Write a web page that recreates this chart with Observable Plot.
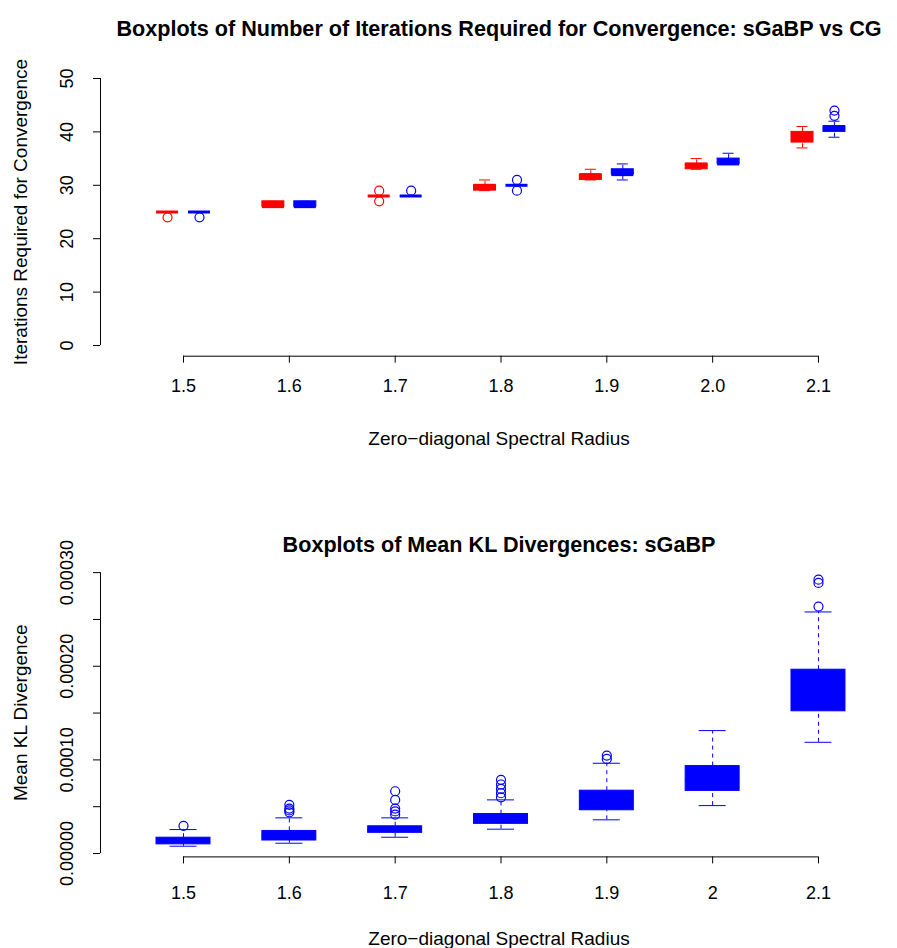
<!DOCTYPE html>
<html><head><meta charset="utf-8">
<script src="https://cdn.jsdelivr.net/npm/d3@7"></script>
<script src="https://cdn.jsdelivr.net/npm/@observablehq/plot@0.6"></script>
<style>body{margin:0;background:#fff} #chart svg{display:block}</style>
</head><body><div id="chart"></div>
<script>
// ---- data ----
const radii = [1.5, 1.6, 1.7, 1.8, 1.9, 2.0, 2.1];
const topTickLabels = ["1.5", "1.6", "1.7", "1.8", "1.9", "2.0", "2.1"];
const botTickLabels = ["1.5", "1.6", "1.7", "1.8", "1.9", "2", "2.1"];
const iterTicks = [0, 10, 20, 30, 40, 50];
const iterTickLabels = ["0", "10", "20", "30", "40", "50"];
const klTicks = [0, 0.00005, 0.0001, 0.00015, 0.0002, 0.00025, 0.0003];
const klTickLabels = ["0.00000", "", "0.00010", "", "0.00020", "", "0.00030"];

// iterations: sGaBP (red)
const sgabpMin = [25, 26, 28, 29, 31, 33, 37];
const sgabpQ1  = [25, 26, 28, 29, 31, 33, 38];
const sgabpMed = [25, 26, 28, 30, 32, 34, 39];
const sgabpQ3  = [25, 27, 28, 30, 32, 34, 40];
const sgabpMax = [25, 27, 28, 31, 33, 35, 41];
const sgabpOut = [[24], [], [27, 29], [], [], [], []];
// iterations: CG (blue)
const cgMin = [25, 26, 28, 30, 31, 34, 39];
const cgQ1  = [25, 26, 28, 30, 32, 34, 40];
const cgMed = [25, 26, 28, 30, 32, 34, 41];
const cgQ3  = [25, 27, 28, 30, 33, 35, 41];
const cgMax = [25, 27, 28, 30, 34, 36, 42];
const cgOut = [[24], [], [29], [29, 31], [], [], [43, 44]];

// mean KL divergence: sGaBP
const klMin = [0.0000078, 0.0000110, 0.0000174, 0.0000260, 0.0000360, 0.0000512, 0.0001188];
const klQ1  = [0.0000098, 0.0000139, 0.0000221, 0.0000317, 0.0000462, 0.0000669, 0.0001519];
const klMed = [0.0000130, 0.0000190, 0.0000255, 0.0000365, 0.0000560, 0.0000790, 0.0001750];
const klQ3  = [0.0000169, 0.0000241, 0.0000291, 0.0000422, 0.0000671, 0.0000934, 0.0001963];
const klMax = [0.0000256, 0.0000381, 0.0000381, 0.0000573, 0.0000964, 0.0001313, 0.0002580];
const klOut = [[0.0000296], [0.0000440, 0.0000460, 0.0000480, 0.0000520],
  [0.0000416, 0.0000450, 0.0000480, 0.0000573, 0.0000665],
  [0.0000600, 0.0000644, 0.0000690, 0.0000737, 0.0000787],
  [0.0001010, 0.0001046], [], [0.0002637, 0.0002890, 0.0002925]];

// ---- layout / style constants ----
const RED = "#FF0000", BLUE = "#0000FF";
const FONT = "'Liberation Sans', Arial, Helvetica, sans-serif";
const W = 897, H = 474;
const xDomain = [1.42155, 2.17467];

function buildRows(color, off, min, q1, med, q3, max) {
  return radii.map((r, i) => ({x: r + off, color, min: min[i], q1: q1[i], med: med[i], q3: q3[i], max: max[i]}));
}
function buildOut(color, off, out) {
  return radii.flatMap((r, i) => out[i].map(v => ({x: r + off, y: v, color})));
}

function panel({rows, outs, hw, yDomain, marginTop, marginBottom, yTicks, yLabels, xLabels, title, ytitle, xtitle, titleDy, xlabDy, xtitleDy}) {
  return Plot.plot({
    width: W, height: H,
    marginLeft: 100, marginRight: 0, marginTop, marginBottom,
    x: {domain: xDomain},
    y: {domain: yDomain},
    color: {type: "identity"},
    style: {fontFamily: FONT, background: "#fff", color: "#000"},
    marks: [
      // boxes
      Plot.ruleX(rows, {x: "x", y1: "q3", y2: "max", stroke: "color", strokeWidth: 1, strokeDasharray: "4,4"}),
      Plot.ruleX(rows, {x: "x", y1: "min", y2: "q1", stroke: "color", strokeWidth: 1, strokeDasharray: "4,4"}),
      Plot.ruleY(rows, {y: "max", x1: d => d.x - hw / 2, x2: d => d.x + hw / 2, stroke: "color", strokeWidth: 1}),
      Plot.ruleY(rows, {y: "min", x1: d => d.x - hw / 2, x2: d => d.x + hw / 2, stroke: "color", strokeWidth: 1}),
      Plot.rect(rows, {x1: d => d.x - hw, x2: d => d.x + hw, y1: "q1", y2: "q3", fill: "color", stroke: "color", strokeWidth: 1}),
      Plot.ruleY(rows, {y: "med", x1: d => d.x - hw, x2: d => d.x + hw, stroke: "color", strokeWidth: 3}),
      Plot.dot(outs, {x: "x", y: "y", r: 4.5, stroke: "color", fill: "none", strokeWidth: 1.2}),
      // y axis
      Plot.ruleX([{x: xDomain[0], y1: d3.min(yTicks), y2: d3.max(yTicks)}], {x: "x", y1: "y1", y2: "y2", stroke: "#000"}),
      Plot.axisY({ticks: yTicks, tickSize: 7, tickFormat: () => "", label: null}),
      Plot.text(yTicks, {y: d => d, text: (d, i) => yLabels[i], frameAnchor: "left", dx: -33, rotate: -90,
        textAnchor: "middle", lineAnchor: "middle", fontSize: 18, fill: "#000"}),
      Plot.text([ytitle], {frameAnchor: "left", dx: -80, rotate: -90, textAnchor: "middle", lineAnchor: "middle", fontSize: 19, fill: "#000"}),
      // x axis
      Plot.ruleY([{y: yDomain[0], x1: d3.min(radii), x2: d3.max(radii)}], {y: "y", x1: "x1", x2: "x2", stroke: "#000"}),
      Plot.axisX({ticks: radii, tickSize: 7, tickFormat: () => "", label: null}),
      Plot.text(radii, {x: d => d, text: (d, i) => xLabels[i], frameAnchor: "bottom", dy: xlabDy, lineAnchor: "middle", fontSize: 18, fill: "#000"}),
      Plot.text([xtitle], {frameAnchor: "bottom", dy: xtitleDy, lineAnchor: "middle", fontSize: 19, fill: "#000"}),
      // title
      Plot.text([title], {frameAnchor: "top", dy: titleDy, lineAnchor: "middle", fontSize: 21.6, fontWeight: "bold", fill: "#000"})
    ]
  });
}

const topOff = 0.0151, topHw = 0.0104;
const topRows = [
  ...buildRows(RED, -topOff, sgabpMin, sgabpQ1, sgabpMed, sgabpQ3, sgabpMax),
  ...buildRows(BLUE, topOff, cgMin, cgQ1, cgMed, cgQ3, cgMax)
];
const topOuts = [...buildOut(RED, -topOff, sgabpOut), ...buildOut(BLUE, topOff, cgOut)];

const botRows = buildRows(BLUE, 0, klMin, klQ1, klMed, klQ3, klMax);
const botOuts = buildOut(BLUE, 0, klOut);

const chart = document.getElementById("chart");
chart.appendChild(panel({
  rows: topRows, outs: topOuts, hw: topHw,
  yDomain: [-2, 52], marginTop: 67.3, marginBottom: H - 355.7,
  yTicks: iterTicks, yLabels: iterTickLabels, xLabels: topTickLabels,
  title: "Boxplots of Number of Iterations Required for Convergence: sGaBP vs CG",
  ytitle: "Iterations Required for Convergence",
  xtitle: "Zero\u2212diagonal Spectral Radius",
  titleDy: -39, xlabDy: 30, xtitleDy: 82.3
}));
chart.appendChild(panel({
  rows: botRows, outs: botOuts, hw: 0.0255,
  yDomain: [-0.0000036, 0.0003044], marginTop: 94, marginBottom: H - 382.4,
  yTicks: klTicks, yLabels: klTickLabels, xLabels: botTickLabels,
  title: "Boxplots of Mean KL Divergences: sGaBP",
  ytitle: "Mean KL Divergence",
  xtitle: "Zero\u2212diagonal Spectral Radius",
  titleDy: -23, xlabDy: 36, xtitleDy: 81.6
}));
</script>
</body></html>
